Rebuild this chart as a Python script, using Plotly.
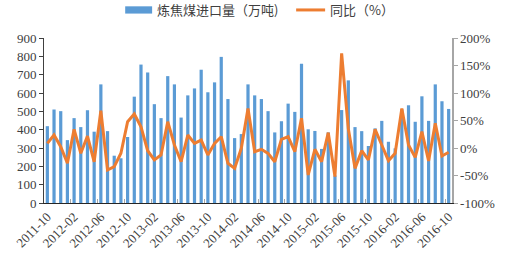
import plotly.graph_objects as go

months = [
    "2011-10", "2011-11", "2011-12",
    "2012-01", "2012-02", "2012-03", "2012-04", "2012-05", "2012-06",
    "2012-07", "2012-08", "2012-09", "2012-10", "2012-11", "2012-12",
    "2013-01", "2013-02", "2013-03", "2013-04", "2013-05", "2013-06",
    "2013-07", "2013-08", "2013-09", "2013-10", "2013-11", "2013-12",
    "2014-01", "2014-02", "2014-03", "2014-04", "2014-05", "2014-06",
    "2014-07", "2014-08", "2014-09", "2014-10", "2014-11", "2014-12",
    "2015-01", "2015-02", "2015-03", "2015-04", "2015-05", "2015-06",
    "2015-07", "2015-08", "2015-09", "2015-10", "2015-11", "2015-12",
    "2016-01", "2016-02", "2016-03", "2016-04", "2016-05", "2016-06",
    "2016-07", "2016-08", "2016-09", "2016-10",
]

imports = [
    419, 510, 501, 343, 463, 414, 506, 389, 647, 392,
    258, 244, 360, 580, 755, 712, 539, 463, 692, 647,
    466, 587, 625, 727, 604, 658, 797, 567, 354, 376,
    647, 587, 567, 501, 385, 446, 542, 497, 759, 402,
    393, 295, 385, 150, 507, 669, 414, 392, 311, 407,
    448, 334, 298, 511, 533, 443, 582, 448, 647, 555,
    513,
]

yoy = [
    8.5, 23.6, 2.4, -27.8, 34, -9.6, 21.8, -25, 67.8, -40,
    -34, -9.6, 47.8, 61.8, 38.7, -5, -21.8, -12.7, 47.8, 5.5,
    -25, 23.6, 8.5, 14.5, -12.7, 8.5, 20.5, -27.8, -37, -0.5,
    72, -6.7, -2.4, -9.7, -25, 15.8, 20.6, -6.7, 54, -49,
    -2.4, -25, 27.9, -52, 172, 35, -37, -5, -21.8, 34,
    5.5, -23, -9.6, 72, 5.5, -17, 29.7, -23.6, 45, -14.5,
    -7.8,
]

series_names = ["炼焦煤进口量（万吨)", "同比（%）"]
tick_labels = months[::4]

left_ticks = [0, 100, 200, 300, 400, 500, 600, 700, 800, 900]
right_ticks = [-100, -50, 0, 50, 100, 150, 200]
right_tick_text = ["-100%", "-50%", "0%", "50%", "100%", "150%", "200%"]

serif = "'Times New Roman', 'Liberation Serif', serif"
cjk = "'Noto Sans CJK SC', sans-serif"
BLUE = "#5B9BD5"
ORANGE = "#ED7D31"

fig = go.Figure()
fig.add_trace(go.Bar(
    x=months, y=imports, name=series_names[0],
    marker=dict(color=BLUE, line=dict(width=0)),
))
fig.add_trace(go.Scatter(
    x=months, y=yoy, name=series_names[1], yaxis="y2", mode="lines",
    line=dict(color=ORANGE, width=3),
))

# legend drawn above the plot area (Excel style), without pushing margins
ly = 1.17
fig.add_shape(type="rect", xref="paper", yref="paper",
              x0=0.199, x1=0.265, y0=ly - 0.022, y1=ly + 0.022,
              fillcolor=BLUE, line=dict(width=0))
fig.add_annotation(xref="paper", yref="paper", x=0.272, y=ly, xanchor="left",
                   yanchor="middle", text=series_names[0], showarrow=False,
                   font=dict(family=cjk, size=13, color="#404040"))
fig.add_shape(type="line", xref="paper", yref="paper",
              x0=0.618, x1=0.689, y0=ly, y1=ly,
              line=dict(color=ORANGE, width=3))
fig.add_annotation(xref="paper", yref="paper", x=0.696, y=ly, xanchor="left",
                   yanchor="middle", text=series_names[1], showarrow=False,
                   font=dict(family=cjk, size=13, color="#404040"))

fig.update_layout(
    width=507, height=258,
    margin=dict(l=44, r=55, t=38, b=55),
    paper_bgcolor="white", plot_bgcolor="white",
    bargap=0.52,
    showlegend=False,
    hovermode=False,
    font=dict(family=serif, size=12, color="#404040"),
    xaxis=dict(
        type="category", tickmode="array", tickvals=tick_labels, ticktext=tick_labels,
        tickangle=-45, tickson="boundaries", ticks="inside", ticklen=4,
        tickcolor="#A6A6A6", showline=True, linecolor="#262626", linewidth=1.2,
        showgrid=False, automargin=False,
        tickfont=dict(family=serif, size=13, color="#404040"),
    ),
    yaxis=dict(
        range=[0, 900], tickvals=left_ticks, showgrid=False, zeroline=False,
        showline=True, linecolor="#404040", linewidth=1, ticks="outside", ticklen=4,
        tickcolor="#404040", automargin=False,
        tickfont=dict(family=serif, size=13, color="#404040"),
    ),
    yaxis2=dict(
        overlaying="y", side="right", range=[-100, 200], tickmode="array",
        tickvals=right_ticks, ticktext=right_tick_text,
        showgrid=False, zeroline=False, showline=True, automargin=False,
        linecolor="#A6A6A6", linewidth=1.5, ticks="outside", ticklen=4, tickcolor="#A6A6A6",
        tickfont=dict(family=serif, size=13, color="#404040"),
    ),
)

fig.write_html(
    "out.html",
    config={"displayModeBar": False, "staticPlot": True},
    post_script="document.body.style.margin='0px';document.body.style.overflow='hidden';",
)
